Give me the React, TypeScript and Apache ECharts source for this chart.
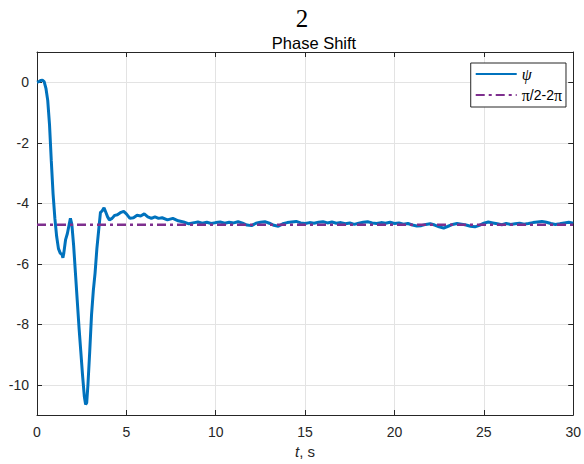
import React, { useEffect, useRef } from "react";
import * as echarts from "echarts";

const TIME: number[] = [
  0, 0.1, 0.2, 0.3, 0.4, 0.5, 0.6, 0.7, 0.8, 0.9, 1.0, 1.1, 1.2, 1.3, 1.4, 1.45, 1.5, 1.6, 1.7, 1.8,
  1.87, 1.95, 2.05, 2.15, 2.25, 2.35, 2.45, 2.55, 2.65, 2.72, 2.78, 2.85, 2.95, 3.05, 3.15, 3.25,
  3.35, 3.45, 3.55, 3.65, 3.75, 3.85, 3.95, 4.05, 4.2, 4.35, 4.5, 4.7, 4.85, 5.0, 5.2, 5.4, 5.6,
  5.8, 6.0, 6.2, 6.4, 6.6, 6.8, 7.0, 7.3, 7.6, 7.9, 8.2, 8.5, 8.8,
  9.0, 9.25, 9.5, 9.75, 10.0, 10.25, 10.5, 10.75, 11.0, 11.25, 11.5, 11.75, 12.0, 12.25, 12.5, 12.75,
  13.0, 13.25, 13.5, 13.75, 14.0, 14.25, 14.5, 14.75, 15.0, 15.25, 15.5, 15.75, 16.0, 16.25, 16.5,
  16.75, 17.0, 17.25, 17.5, 17.75, 18.0, 18.25, 18.5, 18.75, 19.0, 19.25, 19.5, 19.75, 20.0, 20.25,
  20.5, 20.75, 21.0, 21.25, 21.5, 21.75, 22.0, 22.25, 22.5, 22.75, 23.0, 23.25, 23.5, 23.75, 24.0,
  24.25, 24.5, 24.75, 25.0, 25.25, 25.5, 25.75, 26.0, 26.25, 26.5, 26.75, 27.0, 27.25, 27.5, 27.75,
  28.0, 28.25, 28.5, 28.75, 29.0, 29.25, 29.5, 29.75, 30.0,
];

const PSI: number[] = [
  0, 0.02, 0.06, 0.07, 0.02, -0.2, -0.6, -1.4, -2.6, -3.7, -4.5, -5.1, -5.5, -5.65, -5.7, -5.8, -5.65,
  -5.2, -5.0, -4.7, -4.5, -4.7, -5.4, -6.3, -7.2, -8.1, -8.9, -9.7, -10.4, -10.65, -10.6, -10.0, -8.9,
  -7.7, -6.9, -6.3, -5.5, -4.9, -4.3, -4.25, -4.15, -4.3, -4.45, -4.55, -4.5, -4.4, -4.38, -4.3, -4.27,
  -4.35, -4.5, -4.48, -4.4, -4.42, -4.35, -4.45, -4.5, -4.45, -4.5, -4.48, -4.55, -4.5, -4.58, -4.62,
  -4.68, -4.64,
  -4.62, -4.66, -4.63, -4.67, -4.64, -4.62, -4.66, -4.63, -4.65, -4.61, -4.66, -4.72, -4.74, -4.66,
  -4.63, -4.61, -4.66, -4.73, -4.76, -4.68, -4.64, -4.62, -4.6, -4.65, -4.67, -4.64, -4.66, -4.63,
  -4.61, -4.65, -4.62, -4.66, -4.64, -4.68, -4.65, -4.7, -4.66, -4.63, -4.61, -4.65, -4.67, -4.64,
  -4.66, -4.63, -4.67, -4.65, -4.69, -4.67, -4.72, -4.75, -4.74, -4.7, -4.68, -4.72, -4.78, -4.82,
  -4.76, -4.7, -4.67, -4.69, -4.72, -4.76, -4.78, -4.73, -4.66, -4.62, -4.65, -4.68, -4.71, -4.67,
  -4.7, -4.68, -4.66, -4.69, -4.67, -4.64, -4.62, -4.6, -4.63, -4.67, -4.7, -4.68, -4.65, -4.63, -4.66,
];

const REF_TIME: number[] = [0, 30];
const REF_LEVEL: number[] = [-4.712, -4.712];

const Y_TICKS: number[] = [-10, -8, -6, -4, -2, 0];

const FONT = "Liberation Sans, Arial, Helvetica, sans-serif";
const SERIF = "Liberation Serif, Times New Roman, serif";
const TXT = "#262626";

export default function App() {
  const ref = useRef<HTMLDivElement>(null);
  useEffect(() => {
    if (!ref.current) return;
    const chart = echarts.init(ref.current, undefined, { renderer: "svg" });
    const psiData = TIME.map((t, i) => [t, PSI[i]]);
    const refData = REF_TIME.map((t, i) => [t, REF_LEVEL[i]]);
    const xBase = {
      type: "value" as const,
      min: 0,
      max: 30,
      interval: 5,
      axisLine: { show: true, onZero: false, lineStyle: { color: TXT, width: 1 } },
      axisTick: { show: true, inside: true, length: 5, lineStyle: { color: TXT } },
    };
    const yBase = {
      type: "value" as const,
      min: -11,
      max: 1,
      axisLine: { show: true, onZero: false, lineStyle: { color: TXT, width: 1 } },
      axisTick: { show: true, inside: true, length: 5, customValues: Y_TICKS, lineStyle: { color: TXT } },
    };
    chart.setOption({
      animation: false,
      backgroundColor: "#fff",
      title: [
        {
          text: "2",
          left: 297,
          top: 1,
          textAlign: "center",
          textStyle: { fontFamily: SERIF, fontSize: 25, fontWeight: "normal", color: "#000" },
        },
        {
          text: "Phase Shift",
          left: 309,
          top: 29,
          textAlign: "center",
          textStyle: { fontFamily: FONT, fontSize: 16.5, fontWeight: "normal", color: "#000" },
        },
      ],
      grid: { left: 37, right: 9, top: 52, bottom: 49, containLabel: false },
      legend: {
        right: 18,
        top: 63,
        orient: "vertical",
        backgroundColor: "#fff",
        borderColor: TXT,
        borderWidth: 1,
        borderRadius: 0,
        padding: [3, 4, 4, 4],
        itemWidth: 41,
        itemHeight: 14,
        itemGap: 5,
        itemStyle: { opacity: 0 },
        textStyle: {
          fontFamily: FONT,
          fontSize: 14,
          color: "#000",
          rich: {
            i: { fontFamily: SERIF, fontStyle: "italic", fontSize: 16, color: "#000" },
            p: { fontFamily: SERIF, fontSize: 16, color: "#000" },
            n: { fontFamily: FONT, fontSize: 14, color: "#000" },
          },
        },
        formatter: (name: string) => (name === "psi" ? "{i|ψ}" : "{p|π}{n|/2-2}{p|π}"),
        data: ["psi", "ref"],
      },
      xAxis: [
        {
          ...xBase,
          position: "bottom",
          name: "{i|t}{n|, s}",
          nameLocation: "middle",
          nameGap: 28,
          nameTextStyle: {
            rich: {
              i: { fontFamily: FONT, fontStyle: "italic", fontSize: 15, color: TXT },
              n: { fontFamily: FONT, fontSize: 15, color: TXT },
            },
          },
          axisLabel: { show: true, margin: 10, fontFamily: FONT, fontSize: 14, color: TXT },
          splitLine: { show: true, lineStyle: { color: "#e3e3e3", width: 1 } },
        },
        {
          ...xBase,
          position: "top",
          axisLabel: { show: false },
          splitLine: { show: false },
        },
      ],
      yAxis: [
        {
          ...yBase,
          position: "left",
          axisLabel: { show: true, margin: 8, customValues: Y_TICKS, fontFamily: FONT, fontSize: 14, color: TXT },
          splitLine: { show: true, lineStyle: { color: "#e3e3e3", width: 1 } },
        },
        {
          ...yBase,
          position: "right",
          axisLabel: { show: false },
          splitLine: { show: false },
        },
      ],
      series: [
        {
          name: "psi",
          type: "line",
          data: psiData,
          symbol: "none",
          smooth: false,
          lineStyle: { color: "#0072BD", width: 3 },
          itemStyle: { color: "#0072BD" },
          z: 3,
        },
        {
          name: "ref",
          type: "line",
          data: refData,
          symbol: "none",
          lineStyle: { color: "#7E2F8E", width: 2.5, type: [9, 4, 3, 4] },
          itemStyle: { color: "#7E2F8E" },
          z: 4,
        },
      ],
    });
    return () => chart.dispose();
  }, []);
  return (
    <div
      ref={ref}
      style={{ position: "fixed", left: 0, top: 0, width: 584, height: 464, background: "#fff" }}
    />
  );
}
